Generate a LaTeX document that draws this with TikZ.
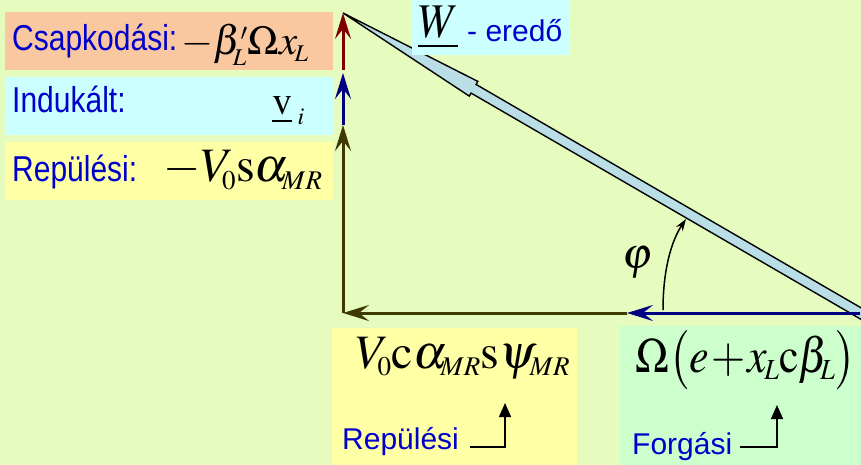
\documentclass[tikz,border=0pt]{standalone}
\usepackage{amsmath}
\usepackage{mathptmx}
\usepackage{fontspec}
\setmainfont{Liberation Serif}
\newfontfamily\tagfont{Liberation Sans}
\usetikzlibrary{arrows.meta,calc}
\DeclareMathSizes{40}{40}{24}{18}
\DeclareMathSizes{41}{41}{24}{18}
\DeclareMathSizes{44}{44}{26}{19}
\DeclareMathSizes{48}{48}{27}{20}
\newcommand{\tallbox}[1]{\scalebox{1}[1.2]{#1}}
\definecolor{bggreen}{RGB}{230,251,190}
\definecolor{peach}{RGB}{250,200,160}
\definecolor{cyanbox}{RGB}{204,255,255}
\definecolor{yellowbox}{RGB}{255,255,165}
\definecolor{greenbox}{RGB}{204,255,204}
\definecolor{wfill}{RGB}{185,222,230}
\definecolor{tagblue}{RGB}{0,0,204}
\definecolor{olivevec}{RGB}{62,58,0}
\definecolor{navyvec}{RGB}{0,0,128}
\definecolor{redvec}{RGB}{128,0,0}

\begin{document}
\begin{tikzpicture}[x=1pt, y=-1pt,
    % coloured panels behind the texts
    panel/.style={inner sep=0pt, outer sep=0pt, anchor=north west},
    % blue sans-serif labels
    tag/.style={text=tagblue, font=\fontsize{30}{34}\selectfont\tagfont, inner sep=0pt, anchor=base west},
    % formulas in Times
    formula/.style={font=\fontsize{44}{50}\selectfont, inner sep=0pt, anchor=base west},
    vec/.style={line width=3pt, -{Stealth[length=26pt,width=16pt,inset=10pt]}},
    pointer/.style={line width=1.5pt, -{Triangle[length=14pt,width=12pt]}}
]
    \clip (0,0) rectangle (861,465);
    \fill[bggreen] (0,0) rectangle (861,465);

    % --- Left column: the three vertical components ---
    \foreach \nm/\top/\col/\txt/\base in {csap/12/peach/Csapkodási:/51, ind/77/cyanbox/Indukált:/113, rep/142/yellowbox/Repülési:/182} {
        \node(\nm-box)[panel, fill=\col, minimum width=328pt, minimum height=58pt] at (5,\top) {};
        \node(\nm-tag)[tag] at (12,\base) {\tallbox{\txt}};
    }
    \node(csap-f)[formula, font=\fontsize{41}{46}\selectfont] at (181,55) {$-\beta'_{\!L}\Omega x_{\!L}$};
    \node(ind-f)[formula, font=\fontsize{40}{46}\selectfont] at (272,115) {$\underline{\mathrm{v}}_{\;i}$};
    \node(rep-f)[formula, font=\fontsize{48}{52}\selectfont] at (163,182) {$-V_{\!0}\mathrm{s}\alpha_{\!MR}$};

    % --- Bottom panels: the horizontal components ---
    \node(rep2-box)[panel, fill=yellowbox, minimum width=245pt, minimum height=140pt] at (332,328) {};
    \node(forg-box)[panel, fill=greenbox, minimum width=245pt, minimum height=140pt] at (620,326) {};
    \node(rep2-f)[formula, font=\fontsize{48}{52}\selectfont] at (356,368) {$V_{\!0}\mathrm{c}\alpha_{\!MR}\mathrm{s}\psi_{\!MR}$};
    \node(forg-f)[formula] at (635,372) {\scalebox{1}[1.12]{$\Omega\bigl(e\mkern1mu{+}\mkern1mu x_{\!L}\mathrm{c}\beta_{\!L}\bigr)$}};
    \node(rep2-tag)[tag] at (342,449) {Repülési};
    \node(forg-tag)[tag] at (632,454) {Forgási};
    \coordinate (rep2-tip) at (505,403);
    \coordinate (forg-tip) at (777,405);
    \draw[pointer] ([xshift=11pt,yshift=2pt]rep2-tag.base east) -| (rep2-tip);
    \draw[pointer] ([xshift=8pt,yshift=7pt]forg-tag.base east) -| (forg-tip);

    % --- Triangle corners ---
    \coordinate (T) at (343,13);
    \coordinate (O) at (343,313);
    \coordinate (R) at (860,313);
    \coordinate (vmid1) at (343,125);
    \coordinate (vmid2) at (343,73);
    \coordinate (vmid3) at (343,70);
    \coordinate (hmid) at (627,313);

    % --- Resultant W: outlined arrow with a long thin head ---
    \coordinate (hb) at ($(T)!151pt!(R)$);
    \coordinate (wend) at ($(T)!1.04!(R)$);
    \draw[fill=wfill, line width=1.4pt, line join=miter]
        (T) -- ($(hb)!8.5pt!90:(R)$) -- ($(hb)!5pt!90:(R)$) -- ($(wend)!5pt!-90:(T)$)
        -- ($(wend)!5pt!90:(T)$) -- ($(hb)!5pt!-90:(R)$) -- ($(hb)!8.5pt!-90:(R)$) -- cycle;

    % --- Component vectors ---
    \draw[vec, olivevec] (O) -- (vmid1);
    \draw[vec, navyvec] (vmid1) -- (vmid2);
    \draw[vec, redvec] (vmid3) -- (T);
    \draw[vec, navyvec] (R) -- (hmid);
    \draw[vec, olivevec] (hmid) -- (O);

    % --- Angle phi ---
    \coordinate (phi-start) at (663,310);
    \coordinate (phi-end) at (686,219);
    \draw[line width=1.5pt, -{Stealth[length=12pt,width=8pt]}] (phi-start) .. controls (663,268) and (672,240) .. (phi-end);
    \node(phi)[formula] at (622,268) {$\varphi$};

    % --- Label of the resultant ---
    \node(w-box)[panel, fill=cyanbox, minimum width=158pt, minimum height=55pt] at (412,0) {};
    \node(w-f)[formula] at (418,38) {\scalebox{1}[1.1]{$\underline{W}$}};
    \node(w-tag)[tag] at (467,42) {- eredő};
\end{tikzpicture}
\end{document}
